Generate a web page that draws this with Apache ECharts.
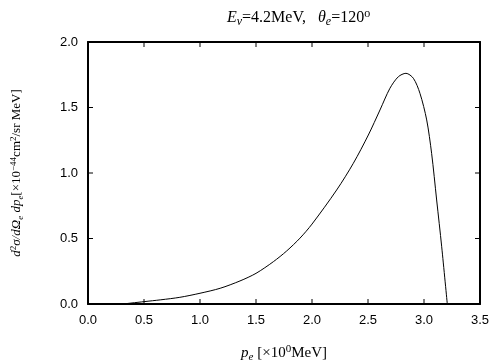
<!DOCTYPE html>
<html>
<head>
<meta charset="utf-8">
<script src="https://cdn.jsdelivr.net/npm/echarts@6/dist/echarts.min.js"></script>
<style>
  html, body { margin: 0; padding: 0; background: #fff; }
  #main { width: 504px; height: 360px; }
</style>
</head>
<body>
<div id="main"></div>
<script>
// values
var momentum = [0.31, 0.5, 0.65, 0.82, 1.0, 1.18, 1.357, 1.5, 1.655, 1.774, 1.893, 2.0, 2.22, 2.369, 2.503, 2.607, 2.696, 2.771, 2.839, 2.905, 2.964, 3.024, 3.068, 3.113, 3.158, 3.208];
var crossSection = [0, 0.018, 0.032, 0.051, 0.082, 0.120, 0.176, 0.234, 0.323, 0.405, 0.503, 0.61, 0.870, 1.074, 1.290, 1.481, 1.647, 1.735, 1.761, 1.723, 1.608, 1.405, 1.150, 0.794, 0.437, 0];
var xTicks = [0, 3.5, 0.5];
var yTicks = [0, 2.0, 0.5];
var xTickVals = [0.5, 1.0, 1.5, 2.0, 2.5, 3.0];
var yTickVals = [0.5, 1.0, 1.5];

var pts = [];
for (var i = 0; i < momentum.length; i++) {
  pts.push([momentum[i], crossSection[i]]);
}

var serif = '"Liberation Serif", "DejaVu Serif", serif';
var sans = '"Liberation Sans", "DejaVu Sans", sans-serif';

function richSet(size) {
  var small = Math.round(size * 0.72);
  var shift = Math.round(size * 0.5);
  return {
    n: { fontFamily: serif, fontSize: size, fontWeight: 'normal', color: '#000' },
    i: { fontFamily: serif, fontSize: size, fontWeight: 'normal', fontStyle: 'italic', color: '#000' },
    sub: { fontFamily: serif, fontSize: small, fontWeight: 'normal', fontStyle: 'italic', color: '#000', verticalAlign: 'bottom', padding: [shift, 0, 0, 0] },
    sup: { fontFamily: serif, fontSize: small, fontWeight: 'normal', color: '#000', verticalAlign: 'top', padding: [0, 0, shift, 0] }
  };
}

var TICK = 5;
function tickLine(x1, y1, x2, y2) {
  return { type: 'line', shape: { x1: x1, y1: y1, x2: x2, y2: y2 }, style: { stroke: '#000', lineWidth: 1 } };
}
// inward ticks on bottom and top edges
function renderXTick(params, api) {
  var v = api.value(0);
  var b = api.coord([v, yTicks[0]]);
  var t = api.coord([v, yTicks[1]]);
  return { type: 'group', children: [
    tickLine(b[0], b[1], b[0], b[1] - TICK),
    tickLine(t[0], t[1], t[0], t[1] + TICK)
  ] };
}
// inward ticks on left and right edges
function renderYTick(params, api) {
  var v = api.value(1);
  var l = api.coord([xTicks[0], v]);
  var r = api.coord([xTicks[1], v]);
  return { type: 'group', children: [
    tickLine(l[0], l[1], l[0] + TICK, l[1]),
    tickLine(r[0], r[1], r[0] - TICK, r[1])
  ] };
}

var myChart = echarts.init(document.getElementById('main'), null, { renderer: 'canvas' });

var lineStyleBox = { show: true, onZero: false, lineStyle: { color: '#000', width: 2 } };

var option = {
  animation: false,
  backgroundColor: '#fff',
  title: {
    text: '{i|E}{sub|ν}{n|=4.2MeV,   }{i|θ}{sub|e}{n|=120}{sup|o}',
    left: 222,
    top: 3,
    textStyle: { fontWeight: 'normal', rich: richSet(16) }
  },
  grid: { left: 88, right: 24, top: 42, bottom: 56, containLabel: false, outerBoundsMode: 'none' },
  xAxis: [{
    type: 'value',
    min: xTicks[0], max: xTicks[1], interval: xTicks[2],
    name: '{i|p}{sub|e}{n| [×10}{sup|0}{n|MeV]}',
    nameLocation: 'middle',
    nameGap: 40,
    nameTextStyle: { rich: richSet(15) },
    axisLine: lineStyleBox,
    axisTick: { show: false },
    axisLabel: { fontFamily: sans, fontSize: 13, color: '#000', margin: 10,
      formatter: function (v) { return v.toFixed(1); } },
    splitLine: { show: false }
  }, {
    type: 'value', position: 'top',
    min: xTicks[0], max: xTicks[1], interval: xTicks[2],
    axisLine: lineStyleBox,
    axisTick: { show: false },
    axisLabel: { show: false },
    splitLine: { show: false }
  }],
  yAxis: [{
    type: 'value',
    min: yTicks[0], max: yTicks[1], interval: yTicks[2],
    name: '{i|d}{sup|2}{i|σ/dΩ}{sub|e}{i| dp}{sub|e}{n|[×10}{sup|−44}{n|cm}{sup|2}{n|/sr MeV]}',
    nameLocation: 'middle',
    nameRotate: 90,
    nameGap: 63,
    nameTextStyle: { rich: richSet(13) },
    axisLine: lineStyleBox,
    axisTick: { show: false },
    axisLabel: { fontFamily: sans, fontSize: 13, color: '#000', margin: 10,
      formatter: function (v) { return v.toFixed(1); } },
    splitLine: { show: false }
  }, {
    type: 'value', position: 'right',
    min: yTicks[0], max: yTicks[1], interval: yTicks[2],
    axisLine: lineStyleBox,
    axisTick: { show: false },
    axisLabel: { show: false },
    splitLine: { show: false }
  }],
  series: [{
    type: 'line',
    data: pts,
    smooth: 0.3,
    showSymbol: false,
    lineStyle: { color: '#000', width: 1 }
  }, {
    // empty series so the mirror axes get drawn
    type: 'line',
    xAxisIndex: 1,
    yAxisIndex: 1,
    data: [],
    showSymbol: false
  }, {
    type: 'custom',
    silent: true,
    clip: false,
    data: xTickVals.map(function (v) { return [v, 0]; }),
    renderItem: renderXTick
  }, {
    type: 'custom',
    silent: true,
    clip: false,
    data: yTickVals.map(function (v) { return [0, v]; }),
    renderItem: renderYTick
  }]
};

myChart.setOption(option);
</script>
</body>
</html>
